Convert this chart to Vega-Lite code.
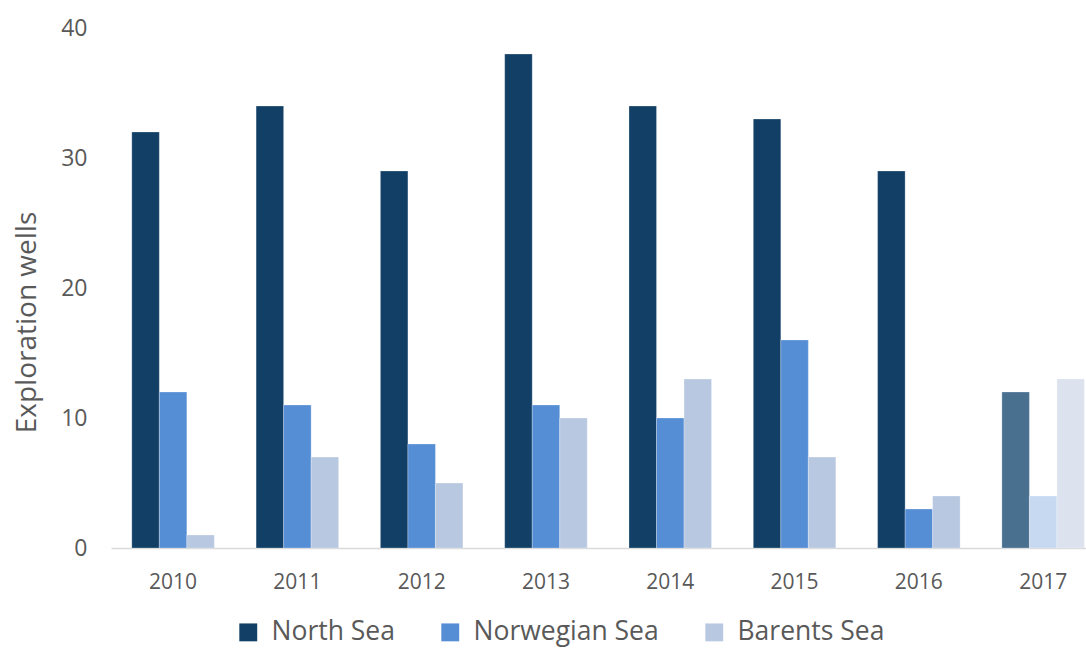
{
  "$schema": "https://vega.github.io/schema/vega-lite/v6.json",
  "autosize": {"type": "none"},
  "padding": {"left": 111, "top": 28, "right": 0, "bottom": 100},
  "width": 975,
  "height": 520,
  "background": "white",
  "config": {
    "view": {"stroke": null},
    "font": "Open Sans",
    "axis": {"grid": false, "ticks": false, "labelColor": "#595959", "titleColor": "#595959", "labelFont": "Open Sans", "titleFont": "Open Sans"},
    "legend": {"labelFont": "Open Sans"}
  },
  "data": {
    "values": [
      {"year": "2010", "series": "North Sea", "wells": 32, "status": "final"},
      {"year": "2010", "series": "Norwegian Sea", "wells": 12, "status": "final"},
      {"year": "2010", "series": "Barents Sea", "wells": 1, "status": "final"},
      {"year": "2011", "series": "North Sea", "wells": 34, "status": "final"},
      {"year": "2011", "series": "Norwegian Sea", "wells": 11, "status": "final"},
      {"year": "2011", "series": "Barents Sea", "wells": 7, "status": "final"},
      {"year": "2012", "series": "North Sea", "wells": 29, "status": "final"},
      {"year": "2012", "series": "Norwegian Sea", "wells": 8, "status": "final"},
      {"year": "2012", "series": "Barents Sea", "wells": 5, "status": "final"},
      {"year": "2013", "series": "North Sea", "wells": 38, "status": "final"},
      {"year": "2013", "series": "Norwegian Sea", "wells": 11, "status": "final"},
      {"year": "2013", "series": "Barents Sea", "wells": 10, "status": "final"},
      {"year": "2014", "series": "North Sea", "wells": 34, "status": "final"},
      {"year": "2014", "series": "Norwegian Sea", "wells": 10, "status": "final"},
      {"year": "2014", "series": "Barents Sea", "wells": 13, "status": "final"},
      {"year": "2015", "series": "North Sea", "wells": 33, "status": "final"},
      {"year": "2015", "series": "Norwegian Sea", "wells": 16, "status": "final"},
      {"year": "2015", "series": "Barents Sea", "wells": 7, "status": "final"},
      {"year": "2016", "series": "North Sea", "wells": 29, "status": "final"},
      {"year": "2016", "series": "Norwegian Sea", "wells": 3, "status": "final"},
      {"year": "2016", "series": "Barents Sea", "wells": 4, "status": "final"},
      {"year": "2017", "series": "North Sea", "wells": 12, "status": "preliminary"},
      {"year": "2017", "series": "Norwegian Sea", "wells": 4, "status": "preliminary"},
      {"year": "2017", "series": "Barents Sea", "wells": 13, "status": "preliminary"}
    ]
  },
  "encoding": {
    "x": {
      "field": "year", "type": "nominal",
      "scale": {"paddingInner": 0.336, "paddingOuter": 0.09, "align": 0.93},
      "axis": {"title": null, "labelAngle": 0, "labelFontSize": 21, "labelPadding": 23, "domainColor": "#d9d9d9", "domainWidth": 1.5}
    },
    "xOffset": {"field": "series", "type": "nominal", "sort": ["North Sea", "Norwegian Sea", "Barents Sea"], "scale": {"paddingInner": 0, "paddingOuter": 0}},
    "y": {
      "field": "wells", "type": "quantitative",
      "scale": {"domain": [0, 40]},
      "axis": {"title": "Exploration wells", "values": [0, 10, 20, 30, 40], "domain": false, "labelFontSize": 23, "labelPadding": 24, "titleFontSize": 28, "titleFontWeight": "normal", "titleX": -76, "titleY": 294, "titleBaseline": "alphabetic", "titleAngle": -90}
    }
  },
  "layer": [
    {
      "transform": [{"filter": "datum.status == 'final'"}],
      "mark": {"type": "bar", "stroke": "#ffffff", "strokeWidth": 0.5, "strokeOpacity": 0.5},
      "encoding": {
        "color": {
          "field": "series", "type": "nominal",
          "scale": {"domain": ["North Sea", "Norwegian Sea", "Barents Sea"], "range": ["#123f65", "#558ed5", "#b9c8e1"]},
          "legend": {"title": null, "orient": "none", "direction": "horizontal", "legendX": 124, "legendY": 591, "symbolType": "square", "symbolSize": 320, "symbolStrokeWidth": 0, "symbolOpacity": 1, "labelFontSize": 26.5, "labelColor": "#595959", "labelOffset": 10, "columnPadding": 42, "labelLimit": 400}
        }
      }
    },
    {
      "transform": [{"filter": "datum.status == 'preliminary'"}],
      "mark": {"type": "bar", "stroke": "#ffffff", "strokeWidth": 0.5, "strokeOpacity": 0.5},
      "encoding": {
        "color": {
          "field": "series", "type": "nominal",
          "scale": {"domain": ["North Sea", "Norwegian Sea", "Barents Sea"], "range": ["#4a7090", "#c6d9f0", "#dce3ef"]},
          "legend": null
        }
      }
    }
  ],
  "resolve": {"scale": {"color": "independent"}}
}
